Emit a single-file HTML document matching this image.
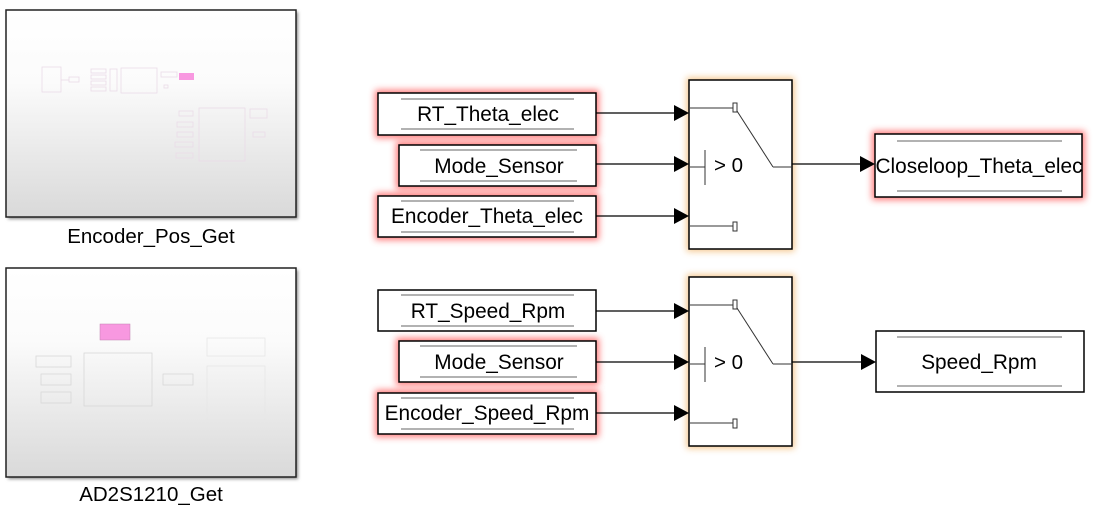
<!DOCTYPE html>
<html><head><style>
html,body{margin:0;padding:0;background:#fff;width:1096px;height:510px;overflow:hidden}
svg text{font-family:"Liberation Sans",Arial,sans-serif;fill:#000}
</style></head><body>
<svg width="1096" height="510" viewBox="0 0 1096 510" xmlns="http://www.w3.org/2000/svg">
<defs>
<linearGradient id="g" x1="0" y1="0" x2="0" y2="1">
<stop offset="0" stop-color="#fff"/><stop offset="0.35" stop-color="#fbfbfb"/><stop offset="1" stop-color="#d9d9d9"/></linearGradient>
<filter id="red" x="-20%" y="-50%" width="140%" height="200%"><feGaussianBlur stdDeviation="3.5"/></filter>
<filter id="sh" x="-10%" y="-10%" width="120%" height="120%"><feGaussianBlur stdDeviation="1.5"/></filter>
</defs>

<!-- subsystem 1 -->
<rect x="8" y="12" width="290" height="207" fill="#888" filter="url(#sh)"/>
<rect x="6" y="10" width="290" height="207" fill="url(#g)" stroke="#222" stroke-width="1.5"/>
<g fill="none" stroke="#eadbe8" stroke-width="0.8">
<rect x="42" y="67" width="19" height="25"/><rect x="69" y="77" width="10" height="5"/><line x1="61" y1="80" x2="69" y2="80"/>
<rect x="91" y="69" width="15" height="4"/><rect x="91" y="75" width="15" height="4"/><rect x="91" y="81" width="15" height="4"/><rect x="91" y="87" width="15" height="4"/>
<rect x="110" y="69" width="7" height="22"/><rect x="121" y="68" width="36" height="25"/>
<rect x="161" y="72" width="16" height="5"/><rect x="164" y="85" width="4" height="3"/>
<rect x="199" y="108" width="46" height="53"/>
<rect x="179" y="111" width="14" height="5"/><rect x="177" y="122" width="16" height="5"/><rect x="177" y="132" width="16" height="5"/><rect x="175" y="142" width="18" height="5"/><rect x="176" y="153" width="17" height="5"/>
<rect x="250" y="109" width="17" height="9"/><rect x="253" y="132" width="12" height="5"/>
</g>
<rect x="179" y="73" width="15" height="7" fill="#f898e0"/>
<text x="151" y="243" font-size="20.5" text-anchor="middle">Encoder_Pos_Get</text>

<!-- subsystem 2 -->
<rect x="8" y="270" width="290" height="209" fill="#888" filter="url(#sh)"/>
<rect x="6" y="268" width="290" height="209" fill="url(#g)" stroke="#222" stroke-width="1.5"/>
<g fill="none" stroke="#d8d8d8" stroke-width="0.8">
<rect x="84" y="353" width="68" height="53"/>
<rect x="36" y="356" width="35" height="11"/><rect x="41" y="374" width="30" height="11"/><rect x="41" y="392" width="30" height="11"/>
<rect x="163" y="374" width="30" height="11"/>
<rect x="207" y="338" width="58" height="18" stroke="#e6e6e6"/><rect x="207" y="366" width="58" height="54" stroke="#e6e6e6"/>
</g>
<rect x="100" y="324" width="30" height="16" fill="#f898e0" stroke="#c080b0" stroke-width="0.5"/>
<text x="151" y="501" font-size="20.5" text-anchor="middle">AD2S1210_Get</text>

<!-- glows -->
<g fill="#ff5a5a" stroke="#ff5a5a" stroke-width="6" opacity="0.8" filter="url(#red)">
<rect x="378" y="93" width="218" height="42"/>
<rect x="399" y="145" width="197" height="41"/>
<rect x="378" y="196" width="218" height="41"/>
<rect x="399" y="341" width="197" height="41"/>
<rect x="378" y="393" width="218" height="41"/>
<rect x="875" y="134" width="207" height="63"/>
</g>
<g fill="#f0b060" stroke="#f0b060" stroke-width="5" opacity="0.7" filter="url(#red)">
<rect x="689" y="80" width="103" height="169"/>
<rect x="689" y="277" width="103" height="169"/>
</g>

<!-- from blocks -->
<g fill="#fff" stroke="#000" stroke-width="1.5">
<rect x="378" y="93" width="218" height="42"/>
<rect x="399" y="145" width="197" height="41"/>
<rect x="378" y="196" width="218" height="41"/>
<rect x="378" y="290" width="218" height="41"/>
<rect x="399" y="341" width="197" height="41"/>
<rect x="378" y="393" width="218" height="41"/>
<rect x="875" y="134" width="207" height="63"/>
<rect x="876" y="331" width="208" height="61"/>
<rect x="689" y="80" width="103" height="169"/>
<rect x="689" y="277" width="103" height="169"/>
</g>
<g stroke="#666" stroke-width="1">
<line x1="401" y1="99" x2="574" y2="99"/><line x1="401" y1="129" x2="574" y2="129"/>
<line x1="420" y1="150" x2="577" y2="150"/><line x1="420" y1="181" x2="577" y2="181"/>
<line x1="401" y1="201" x2="574" y2="201"/><line x1="401" y1="232" x2="574" y2="232"/>
<line x1="401" y1="295" x2="574" y2="295"/><line x1="401" y1="326" x2="574" y2="326"/>
<line x1="420" y1="346" x2="577" y2="346"/><line x1="420" y1="377" x2="577" y2="377"/>
<line x1="401" y1="398" x2="574" y2="398"/><line x1="401" y1="429" x2="574" y2="429"/>
<line x1="897" y1="141" x2="1062" y2="141"/><line x1="897" y1="191" x2="1062" y2="191"/>
<line x1="897" y1="337" x2="1062" y2="337"/><line x1="897" y1="386" x2="1062" y2="386"/>
</g>
<g font-size="20.8" text-anchor="middle">
<text x="488" y="121">RT_Theta_elec</text>
<text x="499" y="173">Mode_Sensor</text>
<text x="487" y="223">Encoder_Theta_elec</text>
<text x="488" y="318">RT_Speed_Rpm</text>
<text x="499" y="369">Mode_Sensor</text>
<text x="487" y="420">Encoder_Speed_Rpm</text>
<text x="979" y="173">Closeloop_Theta_elec</text>
<text x="979" y="369">Speed_Rpm</text>
</g>

<!-- connectors -->
<g stroke="#000" stroke-width="1.2">
<line x1="596" y1="113" x2="676" y2="113"/><line x1="596" y1="164" x2="676" y2="164"/><line x1="596" y1="216" x2="676" y2="216"/>
<line x1="596" y1="311" x2="676" y2="311"/><line x1="596" y1="362" x2="676" y2="362"/><line x1="596" y1="413" x2="676" y2="413"/>
<line x1="792" y1="164" x2="862" y2="164"/><line x1="792" y1="362" x2="862" y2="362"/>
</g>
<g fill="#000">
<polygon points="674,105 689,113 674,121"/><polygon points="674,156 689,164 674,172"/><polygon points="674,208 689,216 674,224"/>
<polygon points="674,303 689,311 674,319"/><polygon points="674,354 689,362 674,370"/><polygon points="674,405 689,413 674,421"/>
<polygon points="860,156 875,164 860,172"/><polygon points="861,354 876,362 861,370"/>
</g>

<!-- switch internals -->
<g fill="none" stroke="#333" stroke-width="1">
<line x1="690" y1="108" x2="733" y2="108"/><rect x="733" y="103" width="4" height="9" fill="#fff"/>
<line x1="737" y1="111" x2="773" y2="167"/><line x1="773" y1="167" x2="792" y2="167"/>
<line x1="690" y1="167" x2="705" y2="167"/><line x1="705" y1="150" x2="705" y2="185"/>
<line x1="690" y1="226" x2="733" y2="226"/><rect x="733" y="222" width="4" height="9" fill="#fff"/>
</g>
<text x="714" y="172" font-size="20.5">&gt; 0</text>
<g transform="translate(0,197)">
<g fill="none" stroke="#333" stroke-width="1">
<line x1="690" y1="108" x2="733" y2="108"/><rect x="733" y="103" width="4" height="9" fill="#fff"/>
<line x1="737" y1="111" x2="773" y2="167"/><line x1="773" y1="167" x2="792" y2="167"/>
<line x1="690" y1="167" x2="705" y2="167"/><line x1="705" y1="150" x2="705" y2="185"/>
<line x1="690" y1="226" x2="733" y2="226"/><rect x="733" y="222" width="4" height="9" fill="#fff"/>
</g>
<text x="714" y="172" font-size="20.5">&gt; 0</text>
</g>
</svg>
</body></html>
